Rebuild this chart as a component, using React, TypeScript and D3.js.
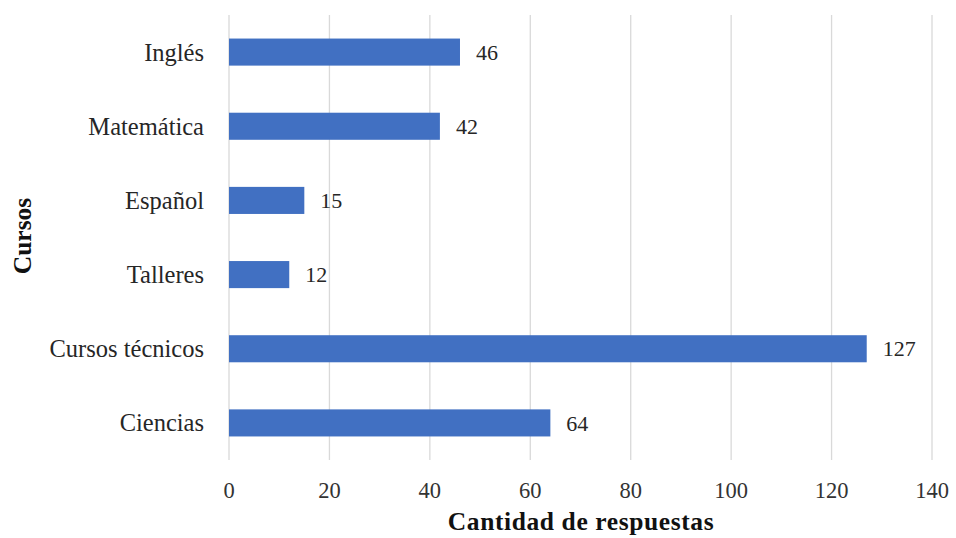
import React from "react";
import * as d3 from "d3";

const categories = ["Inglés", "Matemática", "Español", "Talleres", "Cursos técnicos", "Ciencias"];
const values = [46, 42, 15, 12, 127, 64];
const xTicks = [0, 20, 40, 60, 80, 100, 120, 140];
const xTitle = "Cantidad de respuestas";
const yTitle = "Cursos";

export default function App() {
  const W = 956, H = 538;
  const left = 229, right = 932, top = 15, bottom = 460;
  const x = d3.scaleLinear().domain([0, 140]).range([left, right]);
  const y = d3.scaleBand<string>().domain(categories).range([top, bottom]).paddingInner(0.635).paddingOuter(0.3175);
  const font = '"Liberation Serif", "DejaVu Serif", "Times New Roman", serif';
  const ts = { fontFamily: font };
  return (
    <svg width={W} height={H} style={{ position: "absolute", left: 0, top: 0, background: "#fff" }}>
      {xTicks.map((t) => (
        <line key={"g" + t} x1={x(t)} x2={x(t)} y1={top} y2={bottom} stroke="#d9d9d9" strokeWidth={1.3} />
      ))}
      {categories.map((c, i) => (
        <g key={c}>
          <rect x={x(0)} y={y(c)} width={x(values[i]) - x(0)} height={y.bandwidth()} fill="#4170c2" />
          <text style={ts} x={x(values[i]) + 16} y={(y(c) as number) + y.bandwidth() / 2} dy="0.35em" fontSize={22} fill="#262626">
            {values[i]}
          </text>
          <text style={ts} x={204} y={(y(c) as number) + y.bandwidth() / 2} dy="0.35em" fontSize={24.5} fill="#262626" textAnchor="end">
            {c}
          </text>
        </g>
      ))}
      {xTicks.map((t) => (
        <text style={ts} key={"t" + t} x={x(t)} y={490} dy="0.35em" fontSize={22.5} fill="#333" textAnchor="middle">
          {t}
        </text>
      ))}
      <text style={{ ...ts, letterSpacing: "0.6px" }} x={581} y={521} dy="0.35em" fontSize={25.5} fontWeight="bold" fill="#111" textAnchor="middle">
        {xTitle}
      </text>
      <text style={ts} transform={`translate(22,${236}) rotate(-90)`} dy="0.35em" fontSize={25.5} fontWeight="bold" fill="#111" textAnchor="middle">
        {yTitle}
      </text>
    </svg>
  );
}
